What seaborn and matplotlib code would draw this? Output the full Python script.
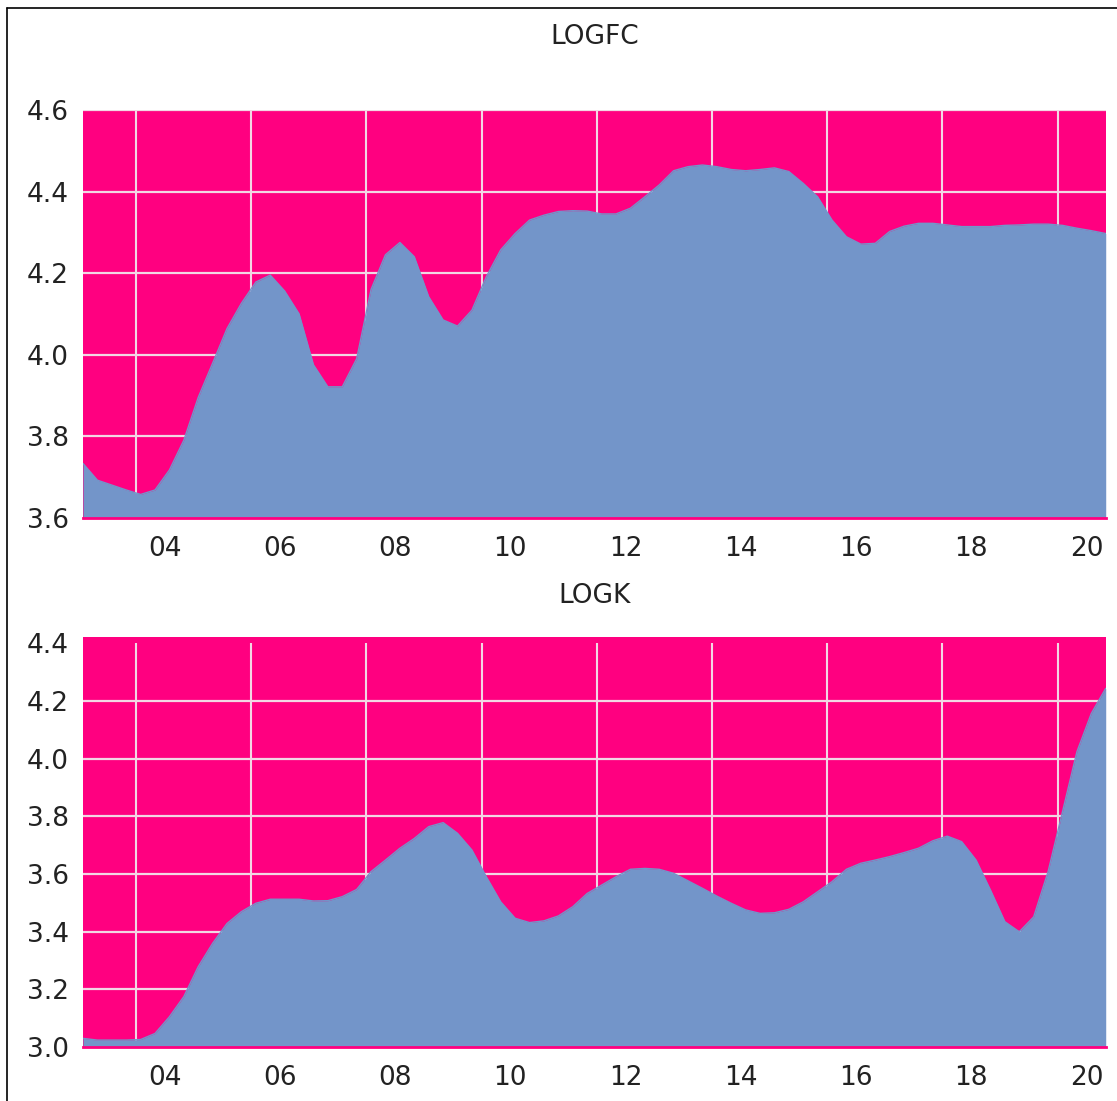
import numpy as np
import pandas as pd
import seaborn as sns
from matplotlib import pyplot as plt
from matplotlib.lines import Line2D

# quarterly readings, 2003M02 .. 2020M11
logfc = [3.733, 3.692, 3.680, 3.668, 3.657, 3.668, 3.717, 3.790, 3.895, 3.979,
         4.064, 4.126, 4.178, 4.195, 4.156, 4.100, 3.975, 3.921, 3.921, 3.990,
         4.160, 4.245, 4.275, 4.240, 4.142, 4.085, 4.070, 4.109, 4.191, 4.257,
         4.297, 4.330, 4.342, 4.351, 4.353, 4.352, 4.345, 4.345, 4.359, 4.387,
         4.416, 4.451, 4.461, 4.465, 4.461, 4.454, 4.451, 4.454, 4.458, 4.449,
         4.420, 4.387, 4.330, 4.289, 4.271, 4.273, 4.302, 4.315, 4.322, 4.322,
         4.318, 4.314, 4.314, 4.314, 4.317, 4.318, 4.320, 4.320, 4.317, 4.310,
         4.304, 4.297]

logk = [3.029, 3.023, 3.023, 3.023, 3.025, 3.046, 3.104, 3.174, 3.278, 3.359,
        3.428, 3.469, 3.498, 3.512, 3.512, 3.512, 3.506, 3.507, 3.521, 3.546,
        3.608, 3.648, 3.689, 3.723, 3.764, 3.778, 3.741, 3.683, 3.590, 3.503,
        3.446, 3.431, 3.437, 3.454, 3.486, 3.532, 3.561, 3.590, 3.616, 3.619,
        3.616, 3.602, 3.576, 3.550, 3.523, 3.498, 3.475, 3.463, 3.465, 3.477,
        3.503, 3.538, 3.573, 3.616, 3.637, 3.648, 3.660, 3.674, 3.689, 3.715,
        3.731, 3.712, 3.648, 3.544, 3.434, 3.399, 3.451, 3.608, 3.816, 4.024,
        4.157, 4.244]

dates = pd.date_range("2003-02-01", periods=len(logfc), freq="3MS")
grid_years = list(range(2004, 2021, 2))
year_labels = ["04", "06", "08", "10", "12", "14", "16", "18", "20"]

fc_ticks = [3.6, 3.8, 4.0, 4.2, 4.4, 4.6]
k_ticks = [3.0, 3.2, 3.4, 3.6, 3.8, 4.0, 4.2, 4.4]

MAGENTA = "#FF0080"
BLUE = "#7395C9"
GRID = "#F2D6E4"
TEXT = "#222222"

t = dates.year + (dates.month - 1) / 12.0

sns.set_theme(style="white")
plt.rcParams["font.family"] = ["DejaVu Sans"]

fig = plt.figure(figsize=(11.17, 11.01), dpi=100)
ax1 = fig.add_axes([0.0743, 0.5298, 0.9156, 0.3703])
ax2 = fig.add_axes([0.0743, 0.0493, 0.9156, 0.3719])


def draw(ax, values, ylo, yhi, yticks, grid_top):
    ax.set_facecolor(MAGENTA)
    ax.fill_between(t, values, ylo, color=BLUE, lw=0, zorder=1)
    sns.lineplot(x=np.asarray(t), y=values, ax=ax, color=BLUE, lw=1, zorder=2)
    ax.set_xlim(t[0], t[-1])
    ax.set_ylim(ylo, yhi)

    # grid sits behind the area
    ax.vlines(grid_years, ylo, grid_top, color=GRID, lw=1.5, zorder=0.5)
    for v in yticks[1:]:
        if v < yhi - 0.03 or v == yhi:
            ax.axhline(v, color=GRID, lw=1.6, zorder=0.5)

    ax.set_yticks(yticks)
    ax.set_yticklabels([f"{v:.1f}" for v in yticks])
    ax.set_xticks(grid_years)
    ax.set_xticklabels([""] * len(grid_years))
    ax.set_xticks([y + 0.5 for y in grid_years], minor=True)
    ax.set_xticklabels(year_labels, minor=True)
    ax.tick_params(which="both", length=0, labelsize=19, colors=TEXT)
    ax.tick_params(axis="y", pad=10)
    ax.tick_params(axis="x", which="minor", pad=13)
    ax.set_xlabel("")
    ax.set_ylabel("")
    for s in ["left", "right", "top"]:
        ax.spines[s].set_visible(False)
    ax.spines["bottom"].set_color(MAGENTA)
    ax.spines["bottom"].set_linewidth(2)


draw(ax1, logfc, 3.6, 4.6, fc_ticks, 4.6)
draw(ax2, logk, 3.0, 4.4215, k_ticks, 4.4)

fig.text(0.532, 1 - 37 / 1101, "LOGFC", ha="center", va="center", fontsize=19, color=TEXT)
fig.text(0.532, 1 - 596 / 1101, "LOGK", ha="center", va="center", fontsize=19, color=TEXT)

# outer frame (left and top edges visible)
fig.add_artist(Line2D([7 / 1117, 7 / 1117], [0, 1 - 8 / 1101], transform=fig.transFigure, color="black", lw=1.2))
fig.add_artist(Line2D([7 / 1117, 1], [1 - 8 / 1101, 1 - 8 / 1101], transform=fig.transFigure, color="black", lw=1.2))

fig.savefig("out.png", dpi=100)
plt.close(fig)
